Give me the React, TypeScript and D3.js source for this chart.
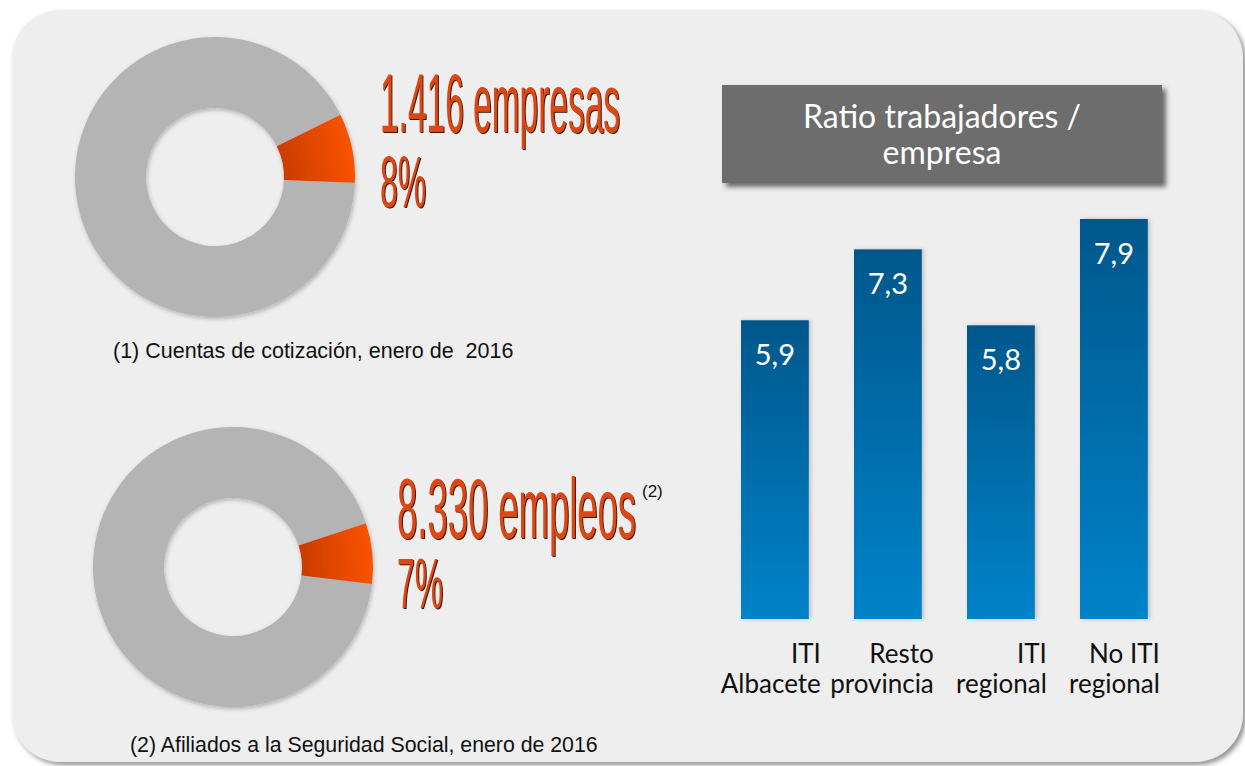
import React from "react";
import * as d3 from "d3";

// ---------- DATA ----------
const donutTopValues = [8, 92]; // % empresas ITI vs resto
const donutBottomValues = [7, 93]; // % empleos ITI vs resto
const donutTopText = ["1.416 empresas", "8%"];
const donutBottomText = ["8.330 empleos", "7%"];
const footnoteTop = "(1) Cuentas de cotización, enero de  2016";
const footnoteBottom = "(2) Afiliados a la Seguridad Social, enero de 2016";
const barTitle = ["Ratio trabajadores /", "empresa"];
const barCategories = [
  ["ITI", "Albacete"],
  ["Resto", "provincia"],
  ["ITI", "regional"],
  ["No ITI", "regional"],
];
const barValues = [5.9, 7.3, 5.8, 7.9];
const barValueLabels = ["5,9", "7,3", "5,8", "7,9"];

const W = 1245;
const H = 766;

function Donut({ cx, cy, values, startDeg, gid }: { cx: number; cy: number; values: number[]; startDeg: number; gid: string }) {
  const s = (startDeg * Math.PI) / 180;
  const pie = d3.pie<number>().sort(null).startAngle(s).endAngle(s + 2 * Math.PI);
  const arcs = pie(values);
  const arc = d3.arc<d3.PieArcDatum<number>>().innerRadius(69).outerRadius(140);
  const mid = (arcs[0].startAngle + arcs[0].endAngle) / 2;
  const gx1 = 60 * Math.sin(mid), gy1 = -60 * Math.cos(mid);
  const gx2 = 140 * Math.sin(mid), gy2 = -140 * Math.cos(mid);
  return (
    <g transform={`translate(${cx},${cy})`}>
      <defs>
        <linearGradient id={gid} gradientUnits="userSpaceOnUse" x1={gx1} y1={gy1} x2={gx2} y2={gy2}>
          <stop offset="0%" stopColor="#c53a02" />
          <stop offset="100%" stopColor="#fa5300" />
        </linearGradient>
      </defs>
      <g filter="url(#softShadow)">
        <path d={arc(arcs[1]) || ""} fill="#b4b4b4" />
        <path d={arc(arcs[0]) || ""} fill={`url(#${gid})`} />
      </g>
    </g>
  );
}

function BigText({ x, y, text, size, len }: { x: number; y: number; text: string; size: number; len: number }) {
  return (
    <text
      x={x}
      y={y}
      fontFamily="'Liberation Sans', Arial, sans-serif"
      fontSize={size}
      textLength={len}
      lengthAdjust="spacingAndGlyphs"
      fill="#dc4613"
      filter="url(#textShadow)"
    >
      {text}
    </text>
  );
}

export default function App() {
  const x = d3
    .scaleBand<number>()
    .domain(barValues.map((_, i) => i))
    .range([718.4, 1170.4])
    .paddingInner(0.4)
    .paddingOuter(0.2);
  const y = d3.scaleLinear().domain([0, 7.9]).range([619, 219]);

  return (
    <svg width={W} height={H} style={{ position: "absolute", left: 0, top: 0 }} xmlns="http://www.w3.org/2000/svg">
      <defs>
        <filter id="panelShadow" x="-5%" y="-5%" width="110%" height="110%">
          <feDropShadow dx="3" dy="3" stdDeviation="2.5" floodColor="#777" floodOpacity="0.8" />
        </filter>
        <filter id="softShadow" x="-10%" y="-10%" width="120%" height="120%">
          <feDropShadow dx="1" dy="2" stdDeviation="2" floodColor="#000" floodOpacity="0.25" />
        </filter>
        <filter id="textShadow" x="-5%" y="-10%" width="110%" height="120%">
          <feOffset in="SourceAlpha" dx="1" dy="0.8" result="off" />
          <feFlood floodColor="#3a1204" result="col" />
          <feComposite in="col" in2="off" operator="in" result="sh" />
          <feMerge>
            <feMergeNode in="sh" />
            <feMergeNode in="SourceGraphic" />
          </feMerge>
        </filter>
        <filter id="boxShadow" x="-5%" y="-10%" width="115%" height="130%">
          <feDropShadow dx="4" dy="4" stdDeviation="2.5" floodColor="#333" floodOpacity="0.7" />
        </filter>
        <filter id="barShadow" x="-10%" y="-5%" width="130%" height="110%">
          <feDropShadow dx="2" dy="0" stdDeviation="2" floodColor="#000" floodOpacity="0.2" />
        </filter>
        <linearGradient id="barGrad" x1="0" y1="0" x2="0" y2="1">
          <stop offset="0%" stopColor="#00578b" />
          <stop offset="100%" stopColor="#0083ca" />
        </linearGradient>
      </defs>
      <rect x={0} y={0} width={W} height={H} fill="#ffffff" />
      <rect x={12} y={10} width={1231} height={752} rx={48} ry={48} fill="#eeeeee" filter="url(#panelShadow)" />

      {/* Donuts */}
      <Donut cx={215} cy={177} values={donutTopValues} startDeg={63.6} gid="orgTop" />
      <Donut cx={233} cy={567} values={donutBottomValues} startDeg={71.8} gid="orgBot" />

      <BigText x={380} y={132} text={donutTopText[0]} size={84} len={240} />
      <BigText x={380} y={207} text={donutTopText[1]} size={72} len={46} />
      <BigText x={397} y={538} text={donutBottomText[0]} size={86} len={239} />
      <BigText x={397} y={608} text={donutBottomText[1]} size={70} len={46} />
      <text x={642} y={497} fontFamily="'Liberation Sans', Arial, sans-serif" fontSize={17} fill="#111">(2)</text>

      <text x={113} y={358} xmlSpace="preserve" style={{ whiteSpace: "pre" }} fontFamily="'Liberation Sans', Arial, sans-serif" fontSize={21.5} fill="#111">{footnoteTop}</text>
      <text x={130} y={752} fontFamily="'Liberation Sans', Arial, sans-serif" fontSize={21.3} fill="#111">{footnoteBottom}</text>

      {/* Title box */}
      <rect x={722} y={85} width={440} height={98} fill="#6d6d6d" filter="url(#boxShadow)" />
      <text textAnchor="middle" fontFamily="Lato, sans-serif" fontSize={32} fill="#ffffff">
        {barTitle.map((t, i) => (
          <tspan key={i} x={942} y={128 + i * 36}>{t}</tspan>
        ))}
      </text>

      {/* Bars */}
      {barValues.map((v, i) => {
        const bx = x(i)!;
        const bw = x.bandwidth();
        return (
          <g key={i}>
            <rect x={bx} y={y(v)} width={bw} height={y(0) - y(v)} fill="url(#barGrad)" filter="url(#barShadow)" />
            <text x={bx + bw / 2} y={y(v) + 45} textAnchor="middle" fontFamily="Lato, sans-serif" fontSize={29} fill="#ffffff">{barValueLabels[i]}</text>
            <text textAnchor="end" fontFamily="Lato, sans-serif" fontSize={26} fill="#111">
              {barCategories[i].map((c, j) => (
                <tspan key={j} x={bx + bw + 12} y={663 + j * 30}>{c}</tspan>
              ))}
            </text>
          </g>
        );
      })}
    </svg>
  );
}
